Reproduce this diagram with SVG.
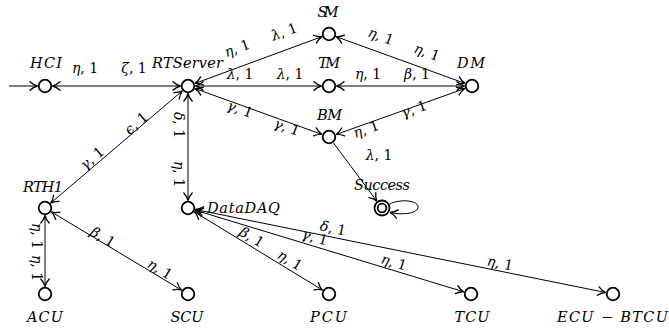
<svg xmlns="http://www.w3.org/2000/svg" width="669" height="329" viewBox="0 0 669 329">
<style>
.st{fill:#fff;stroke:#000;stroke-width:1.8}
.e{fill:none;stroke:#000;stroke-width:1}
text{font-family:'DejaVu Serif',serif;fill:#000;text-anchor:middle}
.nl{font-style:italic;font-size:14.5px}
.el{font-size:14px}
.g{font-style:italic}
.u{font-style:normal}
</style>
<defs>
<marker id="ah" viewBox="-9 -6 10 12" refX="0" refY="0" markerWidth="10" markerHeight="12" markerUnits="userSpaceOnUse" orient="auto-start-reverse">
<path d="M-7.5,-4.2 C-4.8,-1.7 -1.7,-0.4 0,0 C-1.7,0.4 -4.8,1.7 -7.5,4.2" fill="none" stroke="#000" stroke-width="1.3" stroke-linecap="round"/>
</marker>
</defs>
<g id="connectors">
<line class="e" x1="9" y1="86" x2="37.5" y2="86" marker-end="url(#ah)"/>
<line class="e" x1="52.5" y1="86" x2="180.5" y2="86" marker-start="url(#ah)" marker-end="url(#ah)"/>
<line class="e" x1="195" y1="83.4" x2="322" y2="36.6" marker-start="url(#ah)" marker-end="url(#ah)"/>
<line class="e" x1="195.5" y1="86" x2="321.5" y2="86" marker-start="url(#ah)" marker-end="url(#ah)"/>
<line class="e" x1="195.1" y1="88.6" x2="321.9" y2="134.4" marker-start="url(#ah)" marker-end="url(#ah)"/>
<line class="e" x1="336" y1="36.6" x2="465" y2="83.4" marker-start="url(#ah)" marker-end="url(#ah)"/>
<line class="e" x1="336.5" y1="86" x2="464.5" y2="86" marker-start="url(#ah)" marker-end="url(#ah)"/>
<line class="e" x1="336.1" y1="134.5" x2="464.9" y2="88.5" marker-start="url(#ah)" marker-end="url(#ah)"/>
<line class="e" x1="333.5" y1="143" x2="376.9" y2="201.2" marker-end="url(#ah)"/>
<path class="e" d="M389.5,204 C402,198 420,201 418,208 C416,214 402,215 390,212.5" marker-end="url(#ah)"/>
<line class="e" x1="182.3" y1="90.9" x2="50.7" y2="203.1" marker-start="url(#ah)" marker-end="url(#ah)"/>
<line class="e" x1="188" y1="93.5" x2="188" y2="200.5" marker-start="url(#ah)" marker-end="url(#ah)"/>
<line class="e" x1="45" y1="215.5" x2="45" y2="286.5" marker-start="url(#ah)" marker-end="url(#ah)"/>
<line class="e" x1="51.4" y1="211.9" x2="181.6" y2="290.1" marker-start="url(#ah)" marker-end="url(#ah)"/>
<line class="e" x1="194.4" y1="211.9" x2="322.6" y2="290.1" marker-start="url(#ah)" marker-end="url(#ah)"/>
<line class="e" x1="195.2" y1="210.2" x2="463.8" y2="291.8" marker-start="url(#ah)" marker-end="url(#ah)"/>
<line class="e" x1="195.4" y1="209.5" x2="605.6" y2="292.5" marker-start="url(#ah)" marker-end="url(#ah)"/>
</g>
<g id="edge-labels">
<text class="el" x="85" y="73"><tspan class="g">η</tspan>, 1</text>
<text class="el" x="134" y="73"><tspan class="g">ζ</tspan>, 1</text>
<text class="el" transform="translate(237 48) rotate(-20.2)" y="5"><tspan class="g">η</tspan>, 1</text>
<text class="el" transform="translate(284 31.5) rotate(-20.2)" y="5"><tspan class="g">λ</tspan>, 1</text>
<text class="el" x="240" y="79"><tspan class="g">λ</tspan>, 1</text>
<text class="el" x="290" y="79"><tspan class="g">λ</tspan>, 1</text>
<text class="el" transform="translate(240 109) rotate(19.9)" y="5"><tspan class="g">γ</tspan>, 1</text>
<text class="el" transform="translate(287 127) rotate(19.9)" y="5"><tspan class="g">γ</tspan>, 1</text>
<text class="el" transform="translate(381 36) rotate(20)" y="5"><tspan class="g">η</tspan>, 1</text>
<text class="el" transform="translate(427 52) rotate(20)" y="5"><tspan class="g">η</tspan>, 1</text>
<text class="el" x="368" y="79"><tspan class="g">η</tspan>, 1</text>
<text class="el" x="417" y="79"><tspan class="g">β</tspan>, 1</text>
<text class="el" transform="translate(366 129) rotate(-19.6)" y="5"><tspan class="g">η</tspan>, 1</text>
<text class="el" transform="translate(414 109) rotate(-19.6)" y="5"><tspan class="g">γ</tspan>, 1</text>
<text class="el" x="379" y="160"><tspan class="g">λ</tspan>, 1</text>
<text class="el" transform="translate(92 158) rotate(-40.5)" y="5"><tspan class="g">γ</tspan>, 1</text>
<text class="el" transform="translate(136 123) rotate(-40.5)" y="5"><tspan class="g">ϵ</tspan>, 1</text>
<text class="el" transform="translate(179 125) rotate(90)" y="5"><tspan class="g">δ</tspan>, 1</text>
<text class="el" transform="translate(179 174) rotate(90)" y="5"><tspan class="g">η</tspan>, 1</text>
<text class="el" transform="translate(37 236) rotate(90)" y="5"><tspan class="g">η</tspan>, 1</text>
<text class="el" transform="translate(37 268) rotate(90)" y="5"><tspan class="g">η</tspan>, 1</text>
<text class="el" transform="translate(103 237) rotate(31)" y="5"><tspan class="g">β</tspan>, 1</text>
<text class="el" transform="translate(160 269) rotate(31)" y="5"><tspan class="g">η</tspan>, 1</text>
<text class="el" transform="translate(252 237) rotate(31.4)" y="5"><tspan class="g">β</tspan>, 1</text>
<text class="el" transform="translate(290 260) rotate(31.4)" y="5"><tspan class="g">η</tspan>, 1</text>
<text class="el" transform="translate(315 237) rotate(16.9)" y="5"><tspan class="g">γ</tspan>, 1</text>
<text class="el" transform="translate(394 262) rotate(16.9)" y="5"><tspan class="g">η</tspan>, 1</text>
<text class="el" transform="translate(333 228) rotate(11.4)" y="5"><tspan class="g">δ</tspan>, 1</text>
<text class="el" transform="translate(500 263) rotate(11.4)" y="5"><tspan class="g">η</tspan>, 1</text>
</g>
<g id="HCI"><circle class="st" cx="45" cy="86" r="6.3"/><text class="nl" x="46" y="68" textLength="32" lengthAdjust="spacing">HCI</text></g>
<g id="RTServer"><circle class="st" cx="188" cy="86" r="6.3"/><text class="nl" x="187.5" y="68" textLength="71" lengthAdjust="spacing">RTServer</text></g>
<g id="SM"><circle class="st" cx="329" cy="34" r="6.3"/><text class="nl" x="328" y="17" textLength="21" lengthAdjust="spacing">SM</text></g>
<g id="TM"><circle class="st" cx="329" cy="86" r="6.3"/><text class="nl" x="329" y="68" textLength="22" lengthAdjust="spacing">TM</text></g>
<g id="BM"><circle class="st" cx="329" cy="137" r="6.3"/><text class="nl" x="329.5" y="120" textLength="25" lengthAdjust="spacing">BM</text></g>
<g id="DM"><circle class="st" cx="472" cy="86" r="6.3"/><text class="nl" x="471" y="68" textLength="28" lengthAdjust="spacing">DM</text></g>
<g id="Success"><circle class="st" cx="382" cy="208" r="7.5"/><circle class="st" cx="382" cy="208" r="4.3"/><text class="nl" x="382" y="190" textLength="56" lengthAdjust="spacing">Success</text></g>
<g id="RTH1"><circle class="st" cx="45" cy="208" r="6.3"/><text class="nl" x="43" y="192" textLength="40" lengthAdjust="spacing">RTH1</text></g>
<g id="DataDAQ"><circle class="st" cx="188" cy="208" r="6.3"/><text class="nl" x="207" y="213" style="text-anchor:start" textLength="73" lengthAdjust="spacing">DataDAQ</text></g>
<g id="ACU"><circle class="st" cx="45" cy="294" r="6.3"/><text class="nl" x="45" y="322" textLength="36" lengthAdjust="spacing">ACU</text></g>
<g id="SCU"><circle class="st" cx="188" cy="294" r="6.3"/><text class="nl" x="187" y="322" textLength="33" lengthAdjust="spacing">SCU</text></g>
<g id="PCU"><circle class="st" cx="329" cy="294" r="6.3"/><text class="nl" x="328.5" y="322" textLength="37" lengthAdjust="spacing">PCU</text></g>
<g id="TCU"><circle class="st" cx="471" cy="294" r="6.3"/><text class="nl" x="472" y="322" textLength="35" lengthAdjust="spacing">TCU</text></g>
<g id="ECU-BTCU"><circle class="st" cx="613" cy="294" r="6.3"/><text class="nl" x="612.5" y="322" textLength="111" lengthAdjust="spacing">ECU <tspan class="u">−</tspan> BTCU</text></g>
</svg>
